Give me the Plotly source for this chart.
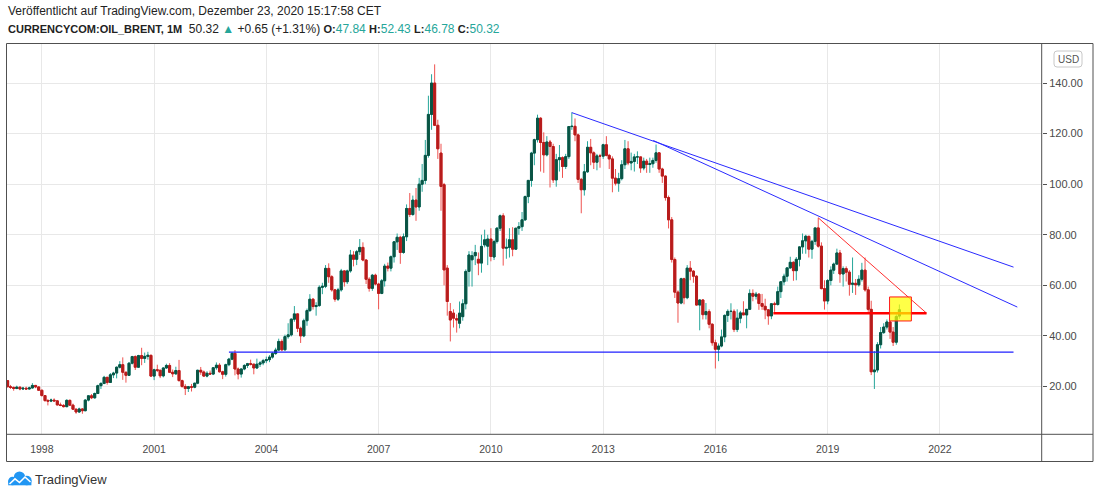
import pandas as pd
import plotly.graph_objects as go

# Monthly Brent candles, Jan 1997 .. Dec 2020 (one row per year)
opens = [
    23.6, 22.3, 19.9, 19.6, 19.2, 19.7, 19.0, 19.3, 19.0, 19.4, 20.4, 19.8,  # 1997
    18.5, 16.4, 14.4, 14.2, 14.6, 14.3, 12.7, 12.5, 12.0, 14.5, 12.6, 11.0,  # 1998
    9.9, 11.1, 10.4, 14.6, 16.3, 15.5, 17.2, 20.3, 21.2, 23.6, 21.6, 24.6,  # 1999
    25.3, 27.6, 28.6, 25.6, 24.4, 29.2, 31.8, 27.6, 32.2, 31.1, 31.9, 32.3,  # 2000
    24.1, 26.6, 26.4, 24.2, 27.3, 28.3, 25.6, 25.0, 26.3, 22.3, 20.0, 19.2,  # 2001
    19.9, 19.7, 21.3, 26.4, 25.7, 24.1, 25.2, 24.9, 27.4, 28.4, 25.8, 24.8,  # 2002
    28.6, 30.8, 33.1, 26.9, 24.9, 26.9, 28.3, 29.0, 28.8, 27.3, 28.8, 29.3,  # 2003
    30.2, 30.6, 31.6, 33.0, 34.4, 37.8, 34.5, 39.7, 40.4, 46.6, 48.7, 43.0,  # 2004
    40.0, 46.0, 50.0, 54.5, 51.6, 52.0, 59.2, 59.6, 66.7, 63.4, 58.2, 54.5,  # 2005
    58.2, 65.7, 61.4, 65.7, 72.0, 70.3, 73.3, 75.0, 70.0, 62.4, 58.8, 64.0,  # 2006
    60.5, 56.8, 61.8, 67.6, 66.8, 71.3, 77.2, 79.0, 73.0, 79.2, 90.4, 88.0,  # 2007
    93.7, 91.0, 100.0, 101.5, 111.4, 127.6, 140.0, 123.3, 112.3, 99.8, 66.8, 49.6,  # 2008
    49.0, 46.8, 45.0, 47.6, 52.7, 65.5, 70.1, 71.7, 70.3, 68.8, 76.0, 75.5,  # 2009
    78.3, 71.2, 77.3, 82.6, 87.5, 74.7, 75.0, 78.0, 74.3, 82.6, 83.2, 85.9,  # 2010
    95.1, 101.5, 112.3, 117.6, 126.1, 116.5, 111.6, 116.7, 114.9, 101.7, 109.7, 110.5,  # 2011
    107.0, 110.9, 122.8, 122.9, 119.5, 101.9, 97.8, 104.9, 114.6, 112.4, 108.7, 111.2,  # 2012
    111.1, 115.6, 111.4, 110.0, 102.4, 100.4, 102.2, 107.7, 114.0, 108.4, 109.0, 110.8,  # 2013
    110.8, 106.4, 109.1, 107.8, 108.1, 109.4, 112.4, 106.0, 103.2, 94.7, 85.9, 70.2,  # 2014
    57.3, 53.0, 62.6, 55.1, 66.8, 65.6, 63.6, 52.2, 54.2, 48.4, 49.6, 44.6,  # 2015
    37.3, 34.7, 36.0, 39.6, 48.1, 49.7, 49.7, 42.5, 47.0, 49.1, 48.3, 50.5,  # 2016
    56.8, 55.7, 56.5, 52.8, 51.7, 50.3, 47.9, 52.7, 52.4, 57.5, 61.4, 63.6,  # 2017
    66.9, 69.1, 65.8, 70.3, 75.2, 77.6, 79.4, 74.3, 77.4, 82.7, 75.5, 58.7,  # 2018
    53.8, 61.9, 66.0, 68.4, 72.8, 64.5, 66.6, 65.2, 60.4, 60.8, 60.2, 62.4,  # 2019
    66.0, 58.2, 50.5, 25.8, 26.5, 36.5, 41.3, 43.5, 45.5, 41.5, 37.5, 47.84,  # 2020
]
highs = [
    24.9, 22.5, 20.6, 20.0, 20.3, 20.0, 19.8, 19.9, 19.9, 21.3, 20.6, 20.0,
    18.7, 16.6, 15.0, 15.2, 15.3, 14.5, 13.6, 13.0, 14.9, 14.8, 13.2, 11.2,
    11.6, 11.4, 15.0, 16.5, 17.0, 17.6, 20.7, 21.6, 24.2, 23.8, 25.3, 25.8,
    27.9, 30.0, 31.5, 25.9, 29.6, 32.1, 32.3, 32.5, 35.3, 33.4, 33.7, 32.6,
    27.0, 28.6, 26.6, 27.6, 29.0, 29.2, 26.7, 27.8, 30.5, 22.7, 20.9, 20.2,
    21.0, 21.4, 26.6, 27.7, 26.3, 26.0, 26.3, 27.6, 29.5, 29.2, 26.2, 29.0,
    31.3, 33.5, 34.4, 27.5, 27.1, 28.8, 29.3, 30.6, 29.0, 31.0, 30.0, 30.9,
    31.8, 32.4, 33.6, 35.3, 38.9, 38.6, 40.5, 45.0, 46.9, 51.8, 48.9, 43.6,
    46.8, 50.8, 56.5, 55.0, 53.3, 60.0, 61.0, 68.0, 68.7, 64.0, 58.6, 59.0,
    66.5, 66.0, 66.2, 74.0, 73.5, 74.0, 78.3, 77.0, 70.3, 63.2, 64.5, 64.6,
    61.0, 62.5, 68.5, 69.0, 71.8, 77.5, 80.5, 79.6, 80.5, 92.0, 96.5, 95.5,
    98.5, 102.5, 108.0, 117.5, 135.0, 143.5, 147.4, 125.5, 116.0, 100.5, 68.0, 53.0,
    50.5, 48.5, 53.6, 54.5, 66.3, 73.5, 73.5, 76.0, 73.0, 80.0, 82.0, 80.0,
    82.6, 78.0, 83.0, 88.0, 88.5, 78.5, 82.6, 83.0, 82.5, 85.0, 89.0, 95.5,
    101.5, 112.8, 118.0, 127.5, 126.5, 120.5, 119.0, 117.5, 116.0, 112.0, 115.5, 111.0,
    112.0, 123.0, 128.4, 126.0, 120.0, 102.5, 108.0, 117.0, 117.9, 113.0, 112.0, 112.0,
    116.0, 119.0, 112.0, 111.0, 106.0, 104.5, 109.5, 117.5, 117.0, 112.5, 112.0, 113.0,
    110.8, 110.5, 110.0, 110.5, 110.5, 115.7, 112.5, 106.5, 103.5, 95.5, 87.0, 71.0,
    58.0, 63.0, 63.0, 68.0, 69.6, 66.0, 64.0, 54.5, 54.5, 53.0, 50.5, 45.0,
    38.5, 37.0, 42.5, 48.5, 50.5, 52.9, 50.5, 50.5, 49.9, 53.7, 50.6, 58.4,
    58.4, 57.4, 56.9, 56.6, 54.7, 50.6, 53.0, 53.5, 59.5, 61.7, 64.6, 67.0,
    71.3, 69.5, 71.2, 75.5, 80.5, 80.0, 79.5, 78.0, 82.6, 86.7, 77.0, 62.0,
    62.5, 67.5, 69.0, 74.5, 74.0, 67.5, 67.5, 66.0, 71.0, 62.5, 64.0, 68.9,
    71.0, 59.5, 53.9, 34.0, 37.5, 43.5, 45.0, 46.5, 46.0, 43.5, 48.5, 52.43,
]
lows = [
    22.1, 19.6, 19.0, 18.3, 18.9, 18.5, 18.6, 18.7, 18.8, 19.2, 19.3, 18.3,
    16.0, 14.0, 12.5, 13.8, 14.0, 12.5, 12.2, 11.7, 11.8, 12.3, 10.9, 9.2,
    9.5, 9.2, 10.2, 14.1, 15.0, 15.2, 17.0, 19.0, 20.9, 20.7, 21.4, 23.3,
    23.2, 27.1, 22.6, 21.5, 24.2, 28.7, 26.5, 27.4, 28.4, 29.3, 30.6, 23.8,
    22.5, 25.7, 23.3, 23.6, 27.0, 25.3, 23.7, 24.6, 22.0, 19.5, 16.6, 17.8,
    18.0, 19.3, 20.9, 24.6, 23.8, 23.6, 24.6, 24.5, 26.6, 25.5, 22.9, 23.9,
    28.0, 30.4, 24.4, 22.8, 23.5, 26.4, 27.3, 28.3, 24.8, 27.0, 27.7, 28.4,
    29.2, 29.6, 31.0, 32.5, 34.0, 33.9, 34.2, 38.9, 39.8, 45.6, 41.5, 37.2,
    39.5, 44.0, 49.5, 50.4, 48.0, 51.5, 56.5, 58.9, 61.0, 57.5, 53.5, 53.8,
    57.5, 59.5, 60.5, 65.0, 67.5, 68.0, 72.0, 69.5, 60.5, 57.5, 57.8, 60.0,
    50.5, 56.5, 59.5, 65.5, 65.5, 69.0, 74.0, 68.5, 72.5, 77.5, 87.0, 87.5,
    85.5, 89.5, 97.0, 100.0, 110.5, 121.5, 123.0, 110.0, 89.5, 60.0, 48.0, 37.8,
    43.3, 41.3, 43.0, 46.0, 50.5, 59.5, 59.5, 68.0, 64.0, 65.0, 75.0, 68.0,
    69.5, 70.0, 76.5, 81.5, 67.8, 70.5, 71.0, 71.5, 74.0, 80.0, 81.5, 85.5,
    92.5, 99.0, 107.5, 116.5, 105.0, 104.5, 111.0, 98.7, 100.5, 99.0, 105.0, 102.5,
    106.0, 110.0, 121.5, 117.0, 100.5, 88.5, 95.5, 104.5, 107.5, 106.0, 105.5, 106.5,
    110.0, 111.0, 106.0, 96.8, 99.5, 97.0, 101.5, 106.0, 107.5, 105.5, 105.0, 108.0,
    104.5, 105.5, 104.5, 104.5, 106.5, 108.5, 104.5, 100.5, 93.5, 82.5, 69.0, 55.0,
    45.2, 52.5, 52.5, 54.5, 62.0, 61.0, 52.0, 42.2, 46.5, 46.5, 43.0, 36.1,
    27.1, 30.0, 35.5, 37.5, 45.5, 46.5, 41.5, 41.5, 45.0, 48.3, 43.0, 50.3,
    53.7, 54.4, 50.3, 50.3, 46.6, 44.4, 46.6, 49.5, 52.0, 55.0, 60.0, 61.5,
    66.5, 61.8, 62.0, 67.5, 72.5, 72.5, 71.0, 70.5, 76.0, 74.9, 58.4, 50.4,
    52.5, 60.0, 64.5, 68.0, 61.0, 59.5, 61.5, 55.9, 57.0, 56.2, 59.5, 61.5,
    57.5, 49.5, 24.5, 19.0, 25.5, 35.0, 40.8, 42.5, 38.8, 36.0, 36.5, 46.78,
]
closes = [
    22.3, 19.9, 19.6, 19.2, 19.7, 19.0, 19.3, 19.0, 19.4, 20.4, 19.8, 18.5,
    16.4, 14.4, 14.2, 14.6, 14.3, 12.7, 12.5, 12.0, 14.5, 12.6, 11.0, 9.9,
    11.1, 10.4, 14.6, 16.3, 15.5, 17.2, 20.3, 21.2, 23.6, 21.6, 24.6, 25.3,
    27.6, 28.6, 25.6, 24.4, 29.2, 31.8, 27.6, 32.2, 31.1, 31.9, 32.3, 24.1,
    26.6, 26.4, 24.2, 27.3, 28.3, 25.6, 25.0, 26.3, 22.3, 20.0, 19.2, 19.9,
    19.7, 21.3, 26.4, 25.7, 24.1, 25.2, 24.9, 27.4, 28.4, 25.8, 24.8, 28.6,
    30.8, 33.1, 26.9, 24.9, 26.9, 28.3, 29.0, 28.8, 27.3, 28.8, 29.3, 30.2,
    30.6, 31.6, 33.0, 34.4, 37.8, 34.5, 39.7, 40.4, 46.6, 48.7, 43.0, 40.0,
    46.0, 50.0, 54.5, 51.6, 52.0, 59.2, 59.6, 66.7, 63.4, 58.2, 54.5, 58.2,
    65.7, 61.4, 65.7, 72.0, 70.3, 73.3, 75.0, 70.0, 62.4, 58.8, 64.0, 60.5,
    56.8, 61.8, 67.6, 66.8, 71.3, 77.2, 79.0, 73.0, 79.2, 90.4, 88.0, 93.7,
    91.0, 100.0, 101.5, 111.4, 127.6, 140.0, 123.3, 114.0, 99.1, 66.1, 53.6, 46.3,
    47.0, 46.3, 49.0, 52.7, 65.5, 72.0, 71.7, 73.0, 68.8, 75.4, 78.0, 78.3,
    71.4, 77.3, 82.6, 87.5, 74.7, 75.0, 78.0, 74.3, 82.6, 83.2, 85.9, 95.1,
    101.5, 112.3, 117.6, 126.1, 116.5, 111.6, 116.7, 114.9, 101.7, 109.7, 110.5, 107.0,
    110.9, 122.8, 122.9, 119.5, 101.9, 97.8, 104.9, 114.6, 112.4, 108.7, 111.2, 111.1,
    115.6, 111.4, 110.0, 102.4, 100.4, 102.2, 107.7, 114.0, 108.4, 109.0, 110.8, 110.8,
    106.4, 109.1, 107.8, 108.1, 109.4, 112.4, 106.0, 103.2, 94.7, 85.9, 70.2, 57.3,
    53.0, 62.6, 55.1, 66.8, 65.6, 63.6, 52.2, 54.2, 48.4, 49.6, 44.6, 37.3,
    34.7, 36.0, 39.6, 48.1, 49.7, 49.7, 42.5, 47.0, 49.1, 48.3, 50.5, 56.8,
    55.7, 56.5, 52.8, 51.7, 50.3, 47.9, 52.7, 52.4, 57.5, 61.4, 63.6, 66.9,
    69.1, 65.8, 70.3, 75.2, 77.6, 79.4, 74.3, 77.4, 82.7, 75.5, 58.7, 53.8,
    61.9, 66.0, 68.4, 72.8, 64.5, 66.6, 65.2, 60.4, 60.8, 60.2, 62.4, 66.0,
    58.2, 50.5, 25.8, 26.5, 36.5, 41.3, 43.5, 45.5, 41.5, 37.5, 47.68, 50.32,
]
months = pd.date_range("1997-01-01", periods=len(closes), freq="MS")

# change shown in the header (vs previous close)
change_abs = 0.65
change_pct = 1.31

# drawings (date, price)
upper_trend_x = ["2012-03-01", "2023-12-20"]
upper_trend_y = [128.3, 67.2]
lower_trend_x = ["2014-05-05", "2024-01-26"]
lower_trend_y = [117.3, 51.4]
support_x = ["2003-01-01", "2023-12-20"]
support_y = [33.6, 33.6]
wedge_top_x = ["2018-10-01", "2021-08-23"]
wedge_top_y = [86.7, 49.0]
wedge_base_x = ["2017-07-20", "2021-08-23"]
wedge_base_y = [49.0, 49.0]
box_x = ["2020-08-27", "2021-03-28"]
box_y = [45.9, 55.4]

FONT = "Liberation Sans, Arial, sans-serif"
UP_WICK, DN_WICK = "#26a69a", "#ef5350"
UP_BODY, DN_BODY = "#0b5444", "#b71c1c"

# plot area in pixels
L, R, T, B = 7, 1042, 43, 434


def px(x):
    return (x - L) / (R - L)


def py(y):
    return (B - y) / (B - T)


fig = go.Figure()

# wicks
fig.add_trace(go.Candlestick(
    x=months, open=opens, high=highs, low=lows, close=closes,
    increasing=dict(line=dict(color=UP_WICK, width=1), fillcolor=UP_WICK),
    decreasing=dict(line=dict(color=DN_WICK, width=1), fillcolor=DN_WICK),
    whiskerwidth=0, hoverinfo="skip",
))
# bodies on top
body_hi = [max(o, c) for o, c in zip(opens, closes)]
body_lo = [min(o, c) for o, c in zip(opens, closes)]
fig.add_trace(go.Candlestick(
    x=months, open=opens, high=body_hi, low=body_lo, close=closes,
    increasing=dict(line=dict(color=UP_BODY, width=1), fillcolor=UP_BODY),
    decreasing=dict(line=dict(color=DN_BODY, width=1), fillcolor=DN_BODY),
    whiskerwidth=0, hoverinfo="skip",
))

for xs, ys, col, w in [
    (support_x, support_y, "#1f1fff", 1.2),
    (upper_trend_x, upper_trend_y, "#2a2aff", 1),
    (lower_trend_x, lower_trend_y, "#2a2aff", 1),
    (wedge_top_x, wedge_top_y, "#ff3030", 1),
    (wedge_base_x, wedge_base_y, "#ff0000", 2.5),
]:
    fig.add_trace(go.Scatter(x=xs, y=ys, mode="lines", line=dict(color=col, width=w),
                             hoverinfo="skip"))

shapes = [
    # highlighted box
    dict(type="rect", xref="x", yref="y", x0=box_x[0], x1=box_x[1], y0=box_y[0], y1=box_y[1],
         fillcolor="rgba(255,255,0,0.72)", line=dict(color="#ff1a1a", width=1), layer="above"),
    # frame
    dict(type="rect", xref="paper", yref="paper", x0=px(6.5), x1=px(1093), y0=py(461.5), y1=py(43.5),
         line=dict(color="#505050", width=1)),
    dict(type="line", xref="paper", yref="paper", x0=px(1041.7), x1=px(1041.7), y0=py(461.5), y1=py(43.5),
         line=dict(color="#505050", width=1)),
    dict(type="line", xref="paper", yref="paper", x0=px(6.5), x1=px(1093), y0=py(434.3), y1=py(434.3),
         line=dict(color="#505050", width=1)),
]

# USD badge (rounded)
x0, x1, y0, y1, r = 1054, 1082, 51, 67, 3
path = (f"M{px(x0 + r)},{py(y0)} L{px(x1 - r)},{py(y0)} Q{px(x1)},{py(y0)} {px(x1)},{py(y0 + r)} "
        f"L{px(x1)},{py(y1 - r)} Q{px(x1)},{py(y1)} {px(x1 - r)},{py(y1)} "
        f"L{px(x0 + r)},{py(y1)} Q{px(x0)},{py(y1)} {px(x0)},{py(y1 - r)} "
        f"L{px(x0)},{py(y0 + r)} Q{px(x0)},{py(y0)} {px(x0 + r)},{py(y0)} Z")
shapes.append(dict(type="path", xref="paper", yref="paper", path=path,
                   line=dict(color="#c8c8c8", width=1), fillcolor="white"))

# TradingView logo (cloud)
for cx, cy, cr in [(12.5, 481.0, 4.3), (19.5, 477.0, 5.6), (26.8, 480.5, 4.8)]:
    shapes.append(dict(type="circle", xref="paper", yref="paper",
                       x0=px(cx - cr), x1=px(cx + cr), y0=py(cy + cr), y1=py(cy - cr),
                       fillcolor="#2196f3", line=dict(width=0)))
shapes.append(dict(type="rect", xref="paper", yref="paper", x0=px(8.2), x1=px(31.4),
                   y0=py(485.3), y1=py(480.5), fillcolor="#2196f3", line=dict(width=0)))
zig = [(9.5, 484.0), (15.0, 478.8), (19.5, 482.5), (25.0, 477.0), (30.5, 482.0)]
shapes.append(dict(type="path", xref="paper", yref="paper",
                   path="M" + " L".join(f"{px(a)},{py(b)}" for a, b in zig),
                   line=dict(color="white", width=1.6)))

teal = f"<span style='color:{UP_WICK}'>"
bold = "<span style='font-size:11px'><b>"
header2 = (f"{bold}CURRENCYCOM:OIL_BRENT, 1M</b></span>  {closes[-1]:.2f} {teal}▲</span> "
           f"+{change_abs:.2f} (+{change_pct:.2f}%) "
           f"{bold}O:</b></span>{teal}{opens[-1]:.2f}</span> {bold}H:</b></span>{teal}{highs[-1]:.2f}</span> "
           f"{bold}L:</b></span>{teal}{lows[-1]:.2f}</span> {bold}C:</b></span>{teal}{closes[-1]:.2f}</span>")

annotations = [
    dict(text="Veröffentlicht auf TradingView.com, Dezember 23, 2020 15:17:58 CET",
         x=px(6), y=py(11), xanchor="left", yanchor="middle",
         font=dict(size=12, color="#222222")),
    dict(text=header2, x=px(6), y=py(29), xanchor="left", yanchor="middle",
         font=dict(size=12, color="#222222")),
    dict(text="TradingView", x=px(32.5), y=py(479), xanchor="left", yanchor="middle",
         font=dict(size=13, color="#333333")),
    dict(text="USD", x=px(1068), y=py(59), xanchor="center", yanchor="middle",
         font=dict(size=10, color="#555555")),
]
for a in annotations:
    a.update(xref="paper", yref="paper", showarrow=False)

fig.update_layout(
    width=1100, height=498,
    margin=dict(l=L, r=1100 - R, t=T, b=498 - B),
    paper_bgcolor="white", plot_bgcolor="white",
    font=dict(family=FONT, color="#333333"),
    showlegend=False, hovermode=False,
    boxgap=0.3, boxgroupgap=0,
    shapes=shapes, annotations=annotations,
    xaxis=dict(
        type="date", range=["1997-01-26", "2024-09-23"],
        tick0="1998-01-01", dtick="M36", tickformat="%Y",
        showgrid=True, gridcolor="#e8e8e8", gridwidth=1,
        zeroline=False, showline=False, ticks="",
        tickfont=dict(size=10.5, color="#4a4a4a"), ticklabelstandoff=7,
        rangeslider=dict(visible=False), fixedrange=True,
    ),
    yaxis=dict(
        side="right", range=[1.19, 155.85],
        tick0=0, dtick=20, tickformat=".2f",
        showgrid=True, gridcolor="#e8e8e8", gridwidth=1,
        zeroline=False, showline=False,
        ticks="outside", ticklen=4, tickcolor="#505050",
        tickfont=dict(size=11, color="#4a4a4a"), ticklabelstandoff=0,
        fixedrange=True,
    ),
)

# page body margin would offset the figure
fig.write_html("out.html", config={"displayModeBar": False},
               post_script="document.body.style.margin='0px';")
